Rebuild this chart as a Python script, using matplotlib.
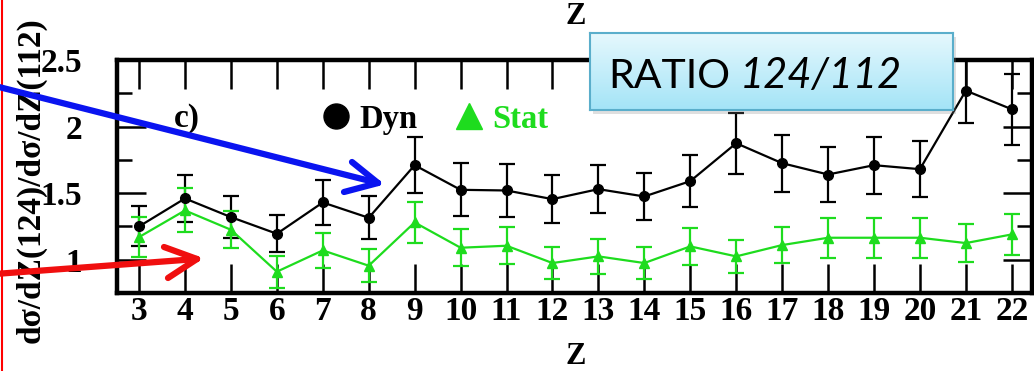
import numpy as np
import matplotlib
matplotlib.use("Agg")
from matplotlib import pyplot
from matplotlib.lines import Line2D
from matplotlib.patches import Rectangle

Z = [3, 4, 5, 6, 7, 8, 9, 10, 11, 12, 13, 14, 15, 16, 17, 18, 19, 20, 21, 22]

dyn = [1.25, 1.46, 1.32, 1.195, 1.43, 1.315, 1.71, 1.525, 1.52, 1.455,
       1.53, 1.475, 1.59, 1.875, 1.725, 1.64, 1.71, 1.68, 2.27, 2.13]
dyn_err = [0.15, 0.18, 0.16, 0.14, 0.17, 0.16, 0.21, 0.20, 0.20, 0.18,
           0.18, 0.18, 0.195, 0.23, 0.215, 0.205, 0.215, 0.21, 0.245, 0.265]

stat = [1.17, 1.37, 1.225, 0.91, 1.07, 0.955, 1.28, 1.09, 1.105, 0.975,
        1.025, 0.975, 1.10, 1.025, 1.11, 1.165, 1.165, 1.165, 1.125, 1.19]
stat_err = [0.15, 0.165, 0.14, 0.12, 0.13, 0.125, 0.155, 0.14, 0.14, 0.12,
            0.13, 0.12, 0.14, 0.125, 0.135, 0.15, 0.15, 0.15, 0.14, 0.155]

W, H = 1034, 371
GREEN = "#1edc1e"
serif = {"family": "Liberation Serif", "weight": "bold"}


def px(x, y):
    # image pixel (from top-left) -> figure fraction
    return x / W, (H - y) / H


fig = pyplot.figure(figsize=(W/100, H/100), dpi=100)
ax = fig.add_axes([117/W, (H-293)/H, (1032-117)/W, (293-60)/H])

ax.errorbar(Z, dyn, yerr=dyn_err, color="black", marker="o", ms=7,
            lw=1.6, elinewidth=1.6, capsize=6, capthick=1.6)
ax.errorbar(Z, stat, yerr=stat_err, color=GREEN, marker="^", ms=6.5,
            lw=1.6, elinewidth=1.6, capsize=6, capthick=1.6)

ax.set_xlim(2.52, 22.44)
ax.set_ylim(0.75, 2.5)
ax.set_xticks(Z)
ax.set_yticks([1, 1.5, 2, 2.5])
ax.set_yticklabels(["1", "1.5", "2", "2.5"])
ax.set_yticks([1.25, 1.75, 2.25], minor=True)
ax.tick_params(axis="both", which="both", direction="in", top=True, right=True,
               width=1.8, labelsize=24)
ax.tick_params(axis="x", which="major", length=21, pad=2)
ax.tick_params(axis="y", which="major", length=21, pad=25)
ax.tick_params(axis="y", which="minor", length=10.5)
for lab in ax.get_xticklabels() + ax.get_yticklabels():
    lab.set_fontfamily("Liberation Serif")
    lab.set_fontweight("bold")
for s in ax.spines.values():
    s.set_linewidth(3.2)

# legend and panel tag
handles = [Line2D([], [], ls="none", marker="o", ms=18, color="black", label="Dyn"),
           Line2D([], [], ls="none", marker="^", ms=19, color=GREEN, label="Stat")]
leg = ax.legend(handles=handles, ncol=2, frameon=False, loc="center left",
                bbox_to_anchor=px(323, 119), bbox_transform=fig.transFigure,
                borderpad=0, borderaxespad=0, handlelength=0.8, handletextpad=0.3,
                columnspacing=1.2, prop={**serif, "size": 23.5})
for t, c in zip(leg.get_texts(), ["black", GREEN]):
    t.set_color(c)
fig.text(*px(187, 118), "c)", ha="center", va="center", size=24, **serif)

fig.text(*px(576, 16), "Z", ha="center", va="center", size=22, **serif)
fig.text(*px(576, 357), "Z", ha="center", va="center", size=22, **serif)
fig.text(*px(31, 180), "dσ/dZ(124)/dσ/dZ(112)", rotation=90,
         ha="center", va="center", size=24, **serif)

# RATIO box with soft shadow and gradient fill
bx0, by0, bx1, by1 = 590, 33, 953, 110
fig.add_artist(Rectangle(px(bx0+3, by1+4), (bx1-bx0)/W, (by1-by0)/H,
                         transform=fig.transFigure, color="gray", alpha=0.25,
                         lw=0, zorder=0.5))
bax = fig.add_axes([bx0/W, (H-by1)/H, (bx1-bx0)/W, (by1-by0)/H], zorder=2)
grad = np.linspace(0, 1, 64)[:, None]
cmap = matplotlib.colors.LinearSegmentedColormap.from_list("box", ["#e6f8fd", "#a4e4f7"])
bax.imshow(grad, aspect="auto", cmap=cmap, extent=[0, 1, 1, 0])
bax.set_xticks([])
bax.set_yticks([])
for s in bax.spines.values():
    s.set_color("#5aaecb")
    s.set_linewidth(1.5)
fig.text(*px(608, 88), "RATIO", va="baseline", size=29.5, family="Lato", zorder=5)
fig.text(*px(740, 88), "124/112", va="baseline", size=30, family="Lato",
         style="italic", zorder=5)

# pointer arrows drawn as a shaft plus two open head strokes
fig.add_artist(Line2D([1.5/W, 1.5/W], [0, 1], color="red", lw=1.5))
arrows = [
    ("#0a14f0", (-5, 86), (378, 183), (352, 162), (344, 192)),
    ("#f00f0f", (-5, 274), (197, 259), (164, 247), (168, 278)),
]
for color, start, tip, arm1, arm2 in arrows:
    for a, b in [(start, tip), (arm1, tip), (arm2, tip)]:
        (x0, y0), (x1, y1) = px(*a), px(*b)
        fig.add_artist(Line2D([x0, x1], [y0, y1], color=color, lw=4.5,
                              solid_capstyle="round", zorder=4))

fig.savefig("out.png", dpi=100)
